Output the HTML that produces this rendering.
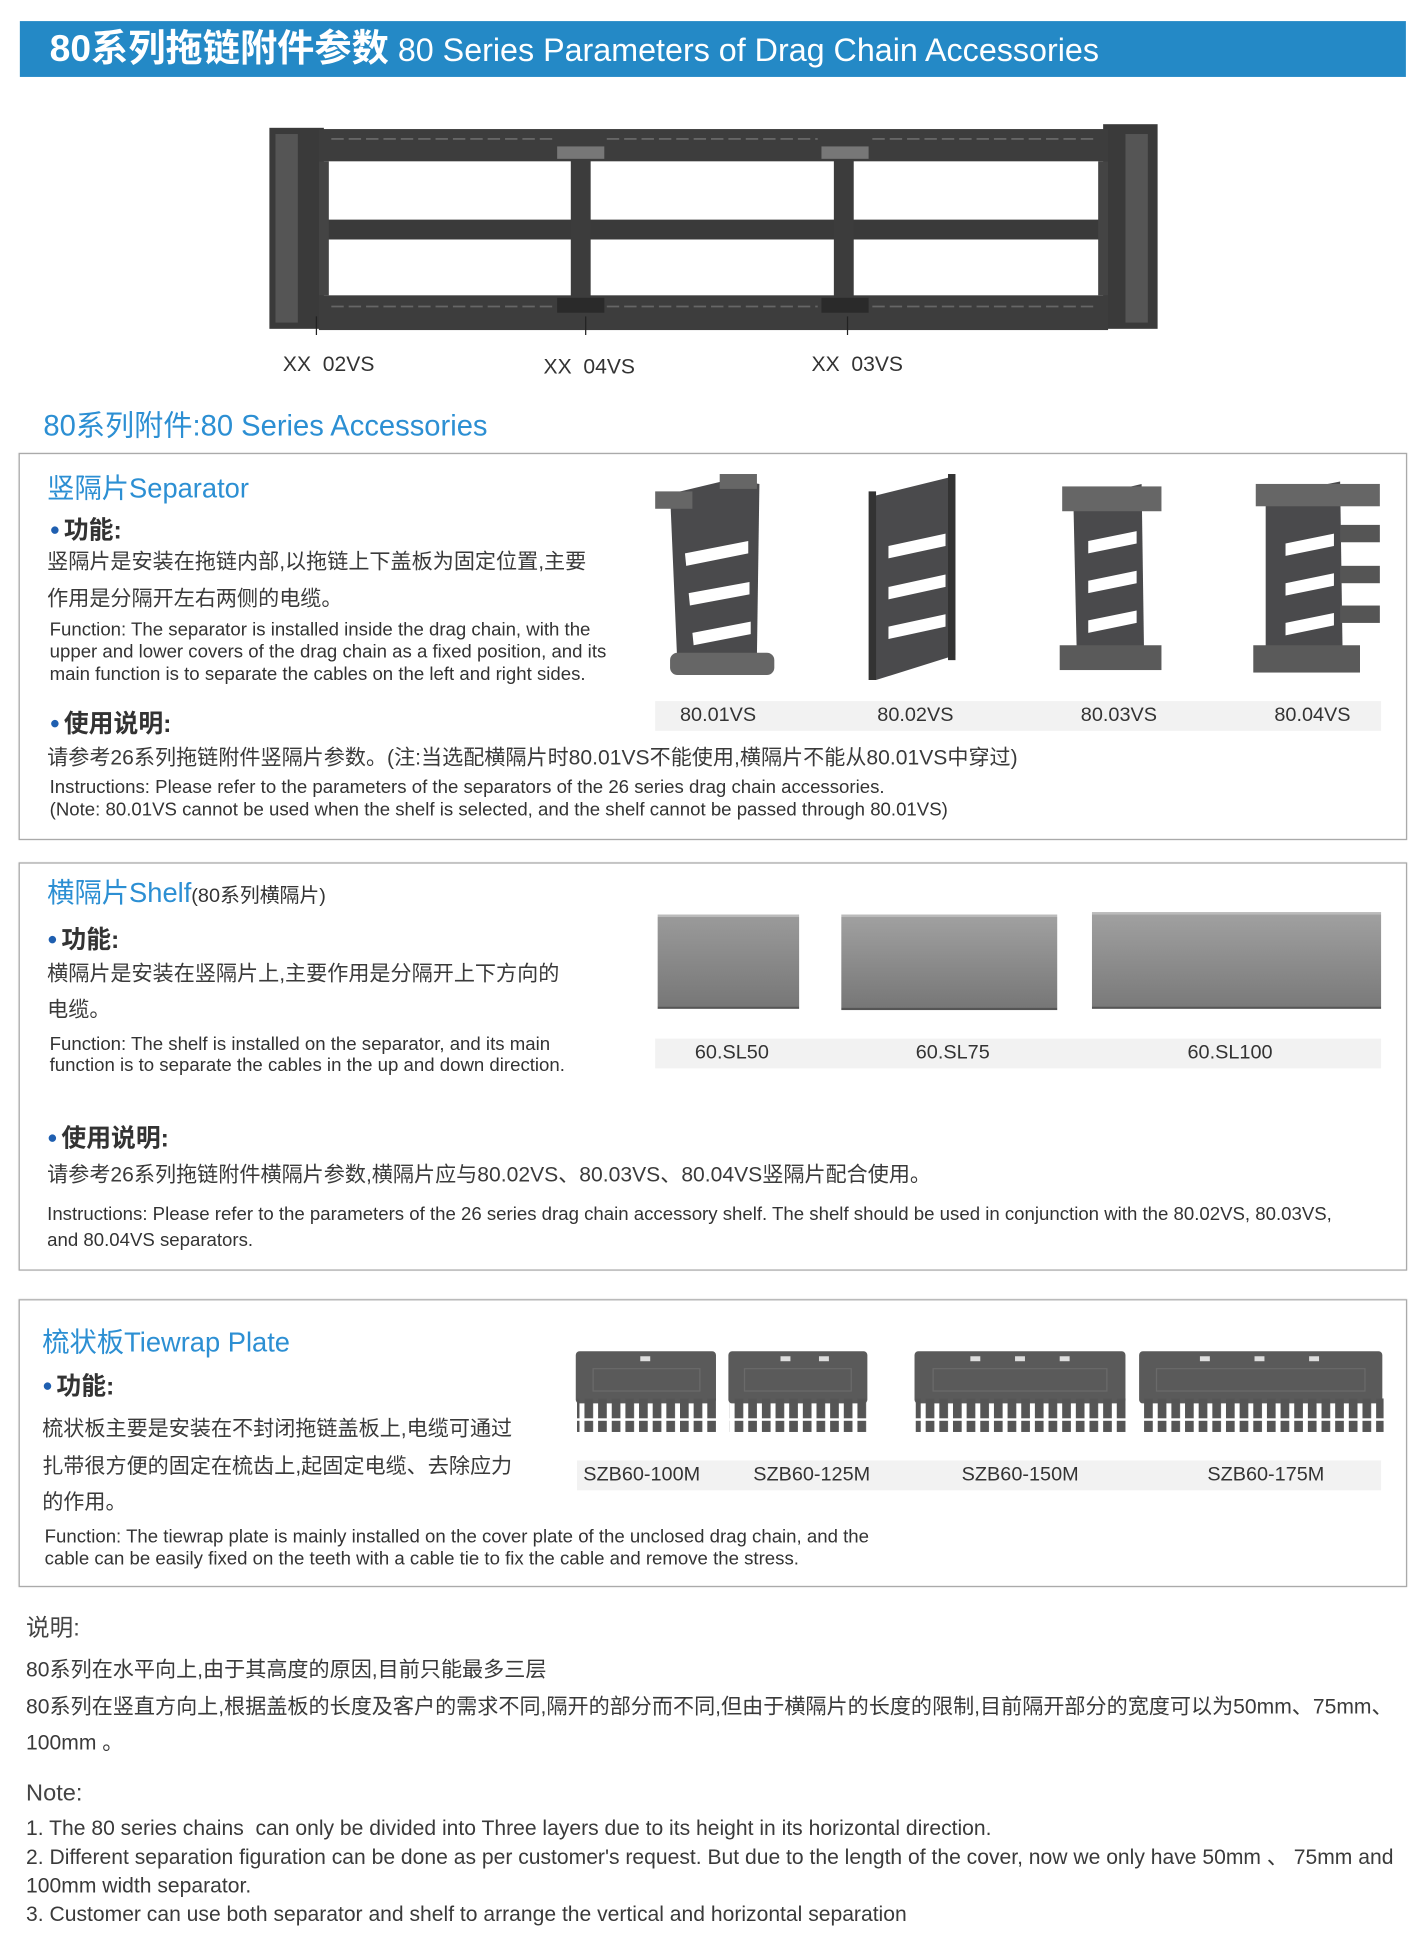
<!DOCTYPE html>
<html><head><meta charset="utf-8">
<style>
html,body{margin:0;padding:0;background:#fff;}
body{width:1427px;height:1946px;overflow:hidden;position:relative;}
#w{position:absolute;left:0;top:0;width:1150px;height:1568px;transform:scale(1.24087);transform-origin:0 0;font-family:"Liberation Sans","Noto Sans CJK SC",sans-serif;color:#3a3a3a;}
.a{position:absolute;white-space:nowrap;}
.cn{font-size:17px;line-height:17px;color:#3a3a3a;}
.en{font-size:15px;line-height:18px;color:#333;}
.blue{color:#2c8fd3;}
.h{font-size:20px;line-height:20px;color:#333;font-weight:bold;}
.h b{color:#1f5fb0;font-size:14px;vertical-align:3px;margin-right:3px;}
.box{position:absolute;left:15px;width:1117px;border:1px solid #aaa;box-shadow:0 0 1px #ccc;}
.strip{position:absolute;background:#f2f2f2;font-size:16px;color:#333;}
.strip span{position:absolute;top:3px;}
</style></head><body><div id="w">

<div class="a" style="left:16px;top:17px;width:1117px;height:45px;background:#2489c6;"></div>
<div class="a" style="left:40px;top:23px;color:#fff;font-size:30px;line-height:34px;font-weight:bold;">80系列拖链附件参数<span style="font-weight:normal;font-size:26px;"> 80 Series Parameters of Drag Chain Accessories</span></div>

<svg class="a" style="left:217px;top:100px" width="716" height="170" viewBox="0 0 716 170">
 <rect x="0" y="0" width="716" height="168" fill="#fff"/>
 <rect x="0" y="3" width="44" height="162" fill="#3a3a3a"/>
 <rect x="5" y="8" width="18" height="152" fill="#555"/>
 <rect x="672" y="0" width="44" height="165" fill="#3a3a3a"/>
 <rect x="690" y="8" width="18" height="152" fill="#555"/>
 <rect x="40" y="4" width="636" height="26" fill="#3d3d3d"/>
 <rect x="40" y="138" width="636" height="28" fill="#3d3d3d"/>
 <rect x="40" y="77" width="636" height="16" fill="#3a3a3a"/>
 <rect x="40" y="30" width="8" height="108" fill="#444"/>
 <rect x="668" y="30" width="8" height="108" fill="#444"/>
 <rect x="243" y="20" width="16" height="120" fill="#3c3c3c"/>
 <rect x="455" y="20" width="16" height="120" fill="#3c3c3c"/>
 <rect x="232" y="18" width="38" height="10" fill="#777"/>
 <rect x="445" y="18" width="38" height="10" fill="#777"/>
 <rect x="232" y="140" width="38" height="12" fill="#2a2a2a"/>
 <rect x="445" y="140" width="38" height="12" fill="#2a2a2a"/>
 <g fill="none" stroke="#666" stroke-width="1.5">
  <path d="M50 12h180M272 12h170M486 12h180M50 147h180M272 147h170M486 147h180" stroke-dasharray="10 4"/>
 </g>
 <line x1="38" y1="155" x2="38" y2="190" stroke="#222"/>
 <line x1="255" y1="155" x2="255" y2="190" stroke="#222"/>
 <line x1="466" y1="155" x2="466" y2="190" stroke="#222"/>
</svg>
<div class="a" style="left:228px;top:284px;font-size:17px;color:#333;">XX&nbsp; 02VS</div>
<div class="a" style="left:438px;top:286px;font-size:17px;color:#333;">XX&nbsp; 04VS</div>
<div class="a" style="left:654px;top:284px;font-size:17px;color:#333;">XX&nbsp; 03VS</div>

<div class="a blue" style="left:35px;top:330px;font-size:23.5px;line-height:26px;">80系列附件:80 Series Accessories</div>

<!-- Box 1 -->
<div class="box" style="top:365px;height:310px;"></div>
<div class="a blue" style="left:38px;top:382px;font-size:22px;line-height:24px;">竖隔片Separator</div>
<div class="a h" style="left:40px;top:416px;"><b>●</b>功能:</div>
<div class="a cn" style="left:38px;top:444px;">竖隔片是安装在拖链内部,以拖链上下盖板为固定位置,主要</div>
<div class="a cn" style="left:38px;top:474px;">作用是分隔开左右两侧的电缆。</div>
<div class="a en" style="left:40px;top:499px;">Function: The separator is installed inside the drag chain, with the<br>upper and lower covers of the drag chain as a fixed position, and its<br>main function is to separate the cables on the left and right sides.</div>
<div class="a h" style="left:40px;top:572px;"><b>●</b>使用说明:</div>
<div class="a cn" style="left:38px;top:602px;">请参考26系列拖链附件竖隔片参数。(注:当选配横隔片时80.01VS不能使用,横隔片不能从80.01VS中穿过)</div>
<div class="a en" style="left:40px;top:626px;">Instructions: Please refer to the parameters of the separators of the 26 series drag chain accessories.<br>(Note: 80.01VS cannot be used when the shelf is selected, and the shelf cannot be passed through 80.01VS)</div>

<svg class="a" style="left:520px;top:378px" width="600" height="175" viewBox="0 0 600 175">
 <g fill="#4a4a4c">
  <path d="M20 20 L70 8 L92 12 L90 150 L40 162 L26 160 Z"/>
  <rect x="8" y="18" width="30" height="14" fill="#666"/><rect x="60" y="4" width="30" height="12" fill="#666"/>
  <rect x="20" y="148" width="84" height="18" rx="6" fill="#666"/>
  <path d="M183 22 L248 6 L250 150 L186 170 Z"/>
  <rect x="180" y="18" width="6" height="152" fill="#333"/><rect x="244" y="4" width="6" height="150" fill="#333"/>
  <path d="M345 25 L400 12 L402 150 L348 160 Z"/>
  <rect x="336" y="14" width="80" height="20" fill="#666"/><rect x="334" y="142" width="82" height="20" fill="#5a5a5a"/>
  <path d="M500 22 L560 10 L562 150 L500 160 Z"/>
  <rect x="492" y="12" width="100" height="18" fill="#666"/><rect x="490" y="142" width="86" height="22" fill="#5a5a5a"/>
  <rect x="560" y="45" width="32" height="14" fill="#555"/><rect x="560" y="78" width="32" height="14" fill="#555"/><rect x="560" y="110" width="32" height="14" fill="#555"/>
 </g>
 <g fill="#fff">
  <path d="M32 68 L83 58 L83 68 L33 78Z"/><path d="M35 100 L84 91 L84 101 L36 110Z"/><path d="M38 132 L85 123 L85 133 L39 142Z"/>
  <path d="M196 62 L242 52 L242 62 L196 72Z"/><path d="M196 95 L242 85 L242 95 L196 105Z"/><path d="M196 127 L242 117 L242 127 L196 137Z"/>
  <path d="M357 58 L396 50 L396 60 L357 68Z"/><path d="M357 90 L396 82 L396 92 L357 100Z"/><path d="M357 122 L396 114 L396 124 L357 132Z"/>
  <path d="M516 60 L555 52 L555 62 L516 70Z"/><path d="M516 92 L555 84 L555 94 L516 102Z"/><path d="M516 124 L555 116 L555 126 L516 134Z"/>
 </g>
</svg>
<div class="strip" style="left:528px;top:565px;width:585px;height:24px;">
 <span style="left:20px">80.01VS</span><span style="left:179px">80.02VS</span><span style="left:343px">80.03VS</span><span style="left:499px">80.04VS</span>
</div>

<!-- Box 2 -->
<div class="box" style="top:695px;height:327px;"></div>
<div class="a blue" style="left:38px;top:708px;font-size:22px;line-height:24px;">横隔片Shelf<span style="font-size:16px;color:#333;">(80系列横隔片)</span></div>
<div class="a h" style="left:38px;top:746px;"><b>●</b>功能:</div>
<div class="a cn" style="left:38px;top:776px;">横隔片是安装在竖隔片上,主要作用是分隔开上下方向的</div>
<div class="a cn" style="left:38px;top:805px;">电缆。</div>
<div class="a en" style="left:40px;top:833px;line-height:17px;">Function: The shelf is installed on the separator, and its main<br>function is to separate the cables in the up and down direction.</div>
<div class="a h" style="left:38px;top:906px;"><b>●</b>使用说明:</div>
<div class="a cn" style="left:38px;top:938px;">请参考26系列拖链附件横隔片参数,横隔片应与80.02VS、80.03VS、80.04VS竖隔片配合使用。</div>
<div class="a en" style="left:38px;top:968px;line-height:21px;">Instructions: Please refer to the parameters of the 26 series drag chain accessory shelf. The shelf should be used in conjunction with the 80.02VS, 80.03VS,<br>and 80.04VS separators.</div>
<div class="a" style="left:530px;top:737px;width:114px;height:72px;background:linear-gradient(#9a9a9a,#777);border-top:2px solid #bbb;border-bottom:2px solid #555;"></div>
<div class="a" style="left:678px;top:737px;width:174px;height:73px;background:linear-gradient(#a0a0a0,#777);border-top:2px solid #bbb;border-bottom:2px solid #555;"></div>
<div class="a" style="left:880px;top:735px;width:233px;height:74px;background:linear-gradient(#a0a0a0,#7a7a7a);border-top:2px solid #bbb;border-bottom:2px solid #555;"></div>
<div class="strip" style="left:528px;top:837px;width:585px;height:24px;">
 <span style="left:32px">60.SL50</span><span style="left:210px">60.SL75</span><span style="left:429px">60.SL100</span>
</div>

<!-- Box 3 -->
<div class="box" style="top:1047px;height:230px;"></div>
<div class="a blue" style="left:34px;top:1070px;font-size:22px;line-height:24px;">梳状板Tiewrap Plate</div>
<div class="a h" style="left:34px;top:1106px;"><b>●</b>功能:</div>
<div class="a cn" style="left:34px;top:1143px;">梳状板主要是安装在不封闭拖链盖板上,电缆可通过</div>
<div class="a cn" style="left:34px;top:1173px;">扎带很方便的固定在梳齿上,起固定电缆、去除应力</div>
<div class="a cn" style="left:34px;top:1202px;">的作用。</div>
<div class="a en" style="left:36px;top:1230px;line-height:18px;">Function: The tiewrap plate is mainly installed on the cover plate of the unclosed drag chain, and the<br>cable can be easily fixed on the teeth with a cable tie to fix the cable and remove the stress.</div>
<svg class="a" style="left:460px;top:1085px" width="660" height="72" viewBox="0 0 660 72">
 <defs>
  <pattern id="t" width="11" height="30" patternUnits="userSpaceOnUse"><rect x="0" y="0" width="7" height="28" fill="#555"/></pattern>
 </defs>
 <g fill="#5a5a5a">
  <rect x="4" y="4" width="113" height="42" rx="3"/><rect x="127" y="4" width="112" height="42" rx="3"/>
  <rect x="277" y="4" width="170" height="42" rx="3"/><rect x="458" y="4" width="196" height="42" rx="3"/>
 </g>
 <g fill="url(#t)"><rect x="5" y="42" width="112" height="27"/><rect x="128" y="42" width="112" height="27"/><rect x="278" y="42" width="170" height="27"/><rect x="459" y="42" width="196" height="27"/></g>
 <g fill="none" stroke="#6a6a6a"><rect x="18" y="18" width="86" height="18"/><rect x="140" y="18" width="86" height="18"/><rect x="292" y="18" width="140" height="18"/><rect x="472" y="18" width="168" height="18"/></g>
 <g fill="#ddd"><rect x="56" y="8" width="8" height="4"/><rect x="169" y="8" width="8" height="4"/><rect x="200" y="8" width="8" height="4"/><rect x="322" y="8" width="8" height="4"/><rect x="358" y="8" width="8" height="4"/><rect x="394" y="8" width="8" height="4"/><rect x="507" y="8" width="8" height="4"/><rect x="551" y="8" width="8" height="4"/><rect x="595" y="8" width="8" height="4"/></g>
</svg>
<div class="strip" style="left:465px;top:1177px;width:648px;height:24px;">
 <span style="left:5px">SZB60-100M</span><span style="left:142px">SZB60-125M</span><span style="left:310px">SZB60-150M</span><span style="left:508px">SZB60-175M</span>
</div>

<!-- Notes -->
<div class="a" style="left:21px;top:1302px;font-size:19px;line-height:22px;color:#444;">说明:</div>
<div class="a cn" style="left:21px;top:1337px;">80系列在水平向上,由于其高度的原因,目前只能最多三层</div>
<div class="a cn" style="left:21px;top:1367px;">80系列在竖直方向上,根据盖板的长度及客户的需求不同,隔开的部分而不同,但由于横隔片的长度的限制,目前隔开部分的宽度可以为50mm、75mm、</div>
<div class="a cn" style="left:21px;top:1396px;">100mm 。</div>
<div class="a" style="left:21px;top:1435px;font-size:19px;line-height:22px;color:#444;">Note:</div>
<div class="a" style="left:21px;top:1462px;font-size:17px;line-height:23px;color:#3a3a3a;">1. The 80 series chains&nbsp; can only be divided into Three layers due to its height in its horizontal direction.<br>2. Different separation figuration can be done as per customer's request. But due to the length of the cover, now we only have 50mm 、 75mm and<br>100mm width separator.<br>3. Customer can use both separator and shelf to arrange the vertical and horizontal separation</div>

</div></body></html>
